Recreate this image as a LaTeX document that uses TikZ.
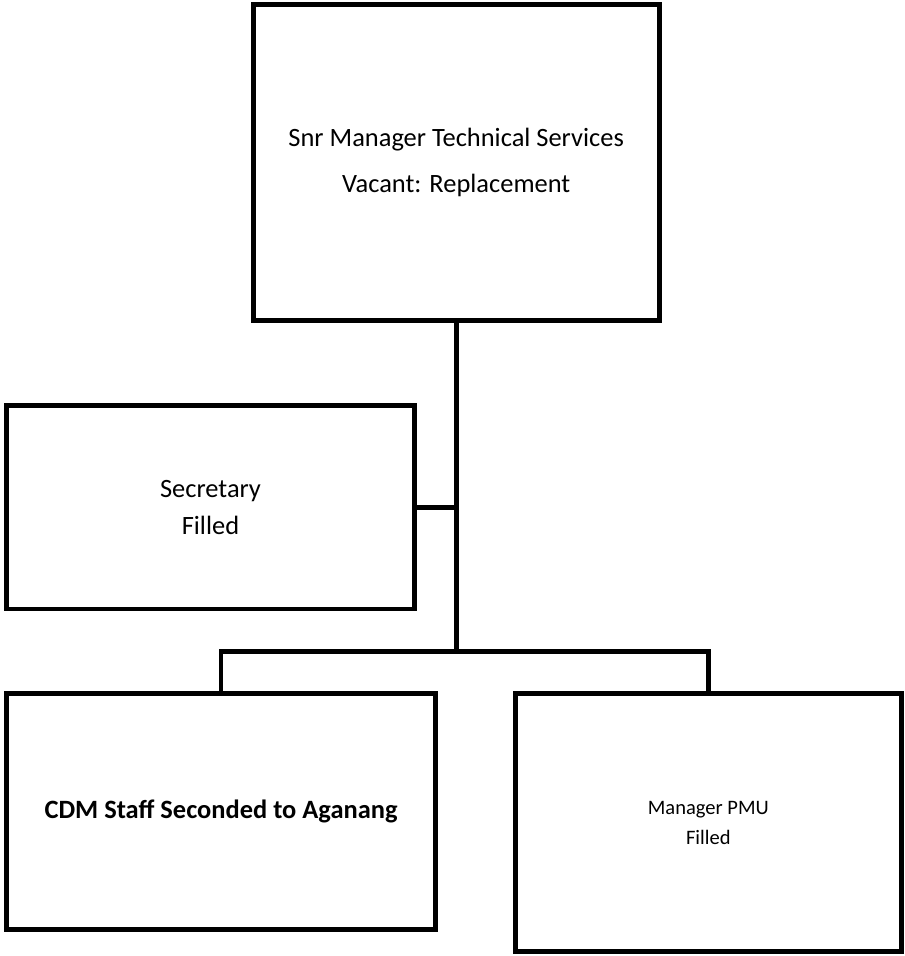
\documentclass[tikz,border=0pt]{standalone}
\usepackage{fontspec}
\setmainfont{Carlito}
\usetikzlibrary{positioning}

\begin{document}
\begin{tikzpicture}[x=0.025cm,y=-0.025cm,
		post/.style={draw,line width=3.5pt,rectangle,inner sep=0pt,align=center},
		link/.style={line width=3.5pt}]
		\useasboundingbox (0,0) rectangle (904,956);
		% posts
		\node [post,minimum width=10.15cm,minimum height=7.9cm,font={\fontsize{18.8pt}{32.7pt}\selectfont}] (snr) at (456.2,162.5) {Snr Manager Technical Services\\Vacant: Replacement};
		\node [post,minimum width=10.175cm,minimum height=5.08cm,font={\fontsize{18.8pt}{26.3pt}\selectfont}] (sec) at (210.5,507.4) {Secretary\\Filled};
		\node [post,minimum width=10.7cm,minimum height=5.91cm,font={\bfseries\fontsize{18.8pt}{26pt}\selectfont}] (cdm) at (221,811.7) {CDM Staff Seconded to Aganang};
		\node [post,minimum width=9.65cm,minimum height=6.45cm,font={\fontsize{14.6pt}{21.3pt}\selectfont}] (pmu) at (708.3,822.6) {Manager PMU\\Filled};
		\coordinate (split) at (456.2,651.7);
		% lines
		\draw [link] (snr.south) -- (split);
		\draw [link] (sec.east) -- (sec.east -| split);
		\draw [link] (cdm.north) |- (split) -| (pmu.north);
	\end{tikzpicture}
\end{document}
